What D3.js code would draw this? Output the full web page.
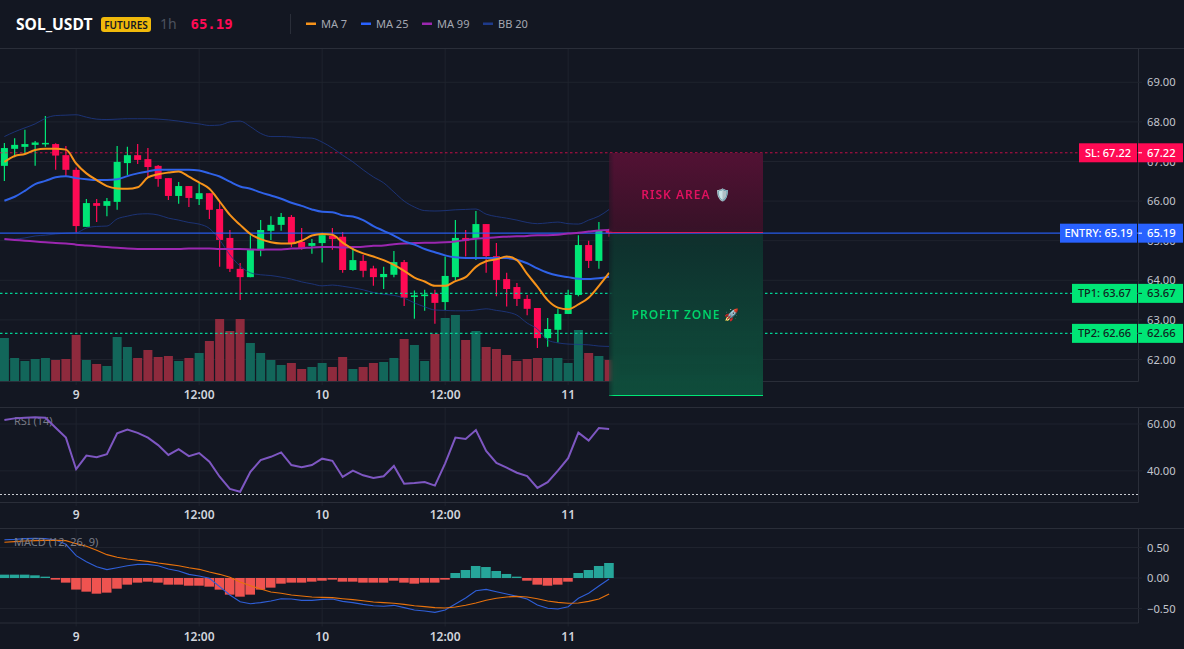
<!DOCTYPE html>
<html>
<head>
<meta charset="utf-8">
<title>SOL_USDT</title>
<script src="https://cdn.jsdelivr.net/npm/d3@7"></script>
<style>
  html, body { margin: 0; padding: 0; background: #131722; overflow: hidden; }
  #stage { position: relative; width: 1184px; height: 649px; font-family: "Noto Sans", "Open Sans", sans-serif; }
  svg { position: absolute; left: 0; top: 0; }
  .zone { position: absolute; box-sizing: border-box; backdrop-filter: blur(3px); display: flex; align-items: center; justify-content: center; font-size: 12px; letter-spacing: 1px; font-weight: 600; white-space: pre;
    -webkit-mask-image: linear-gradient(90deg, rgba(0,0,0,.55), #000 5px); mask-image: linear-gradient(90deg, rgba(0,0,0,.55), #000 5px); }
</style>
</head>
<body>
<div id="stage"></div>
<script>
// Hourly candles, index 0..59
const opens  = [66.89,67.32,67.37,67.42,67.44,67.44,67.16,66.79,65.35,65.95,65.88,65.98,66.96,67.16,67.06,66.89,66.58,66.13,66.38,66.05,66.2,65.8,65.07,64.29,64.08,64.77,65.25,65.4,65.6,64.97,64.87,64.94,65.12,65.1,64.26,64.49,64.3,64.08,64.14,64.46,63.58,63.6,63.66,63.45,64.08,65.07,65.07,65.42,64.61,64.03,63.83,63.53,63.3,62.54,62.75,63.15,63.63,64.89,64.49,65.25];
const highs  = [67.47,67.59,67.80,67.52,68.15,67.46,67.39,66.85,66.05,66.05,66.08,67.39,67.37,67.44,67.34,66.91,66.58,66.48,66.38,66.46,66.2,65.98,65.27,64.44,65.14,65.52,65.62,65.7,65.65,65.32,65.04,65.2,65.32,65.22,64.82,64.64,64.37,64.34,64.74,64.51,63.74,63.76,63.76,64.6,65.52,65.27,65.75,65.42,64.94,64.19,63.93,63.63,63.3,63.05,63.28,63.76,65.14,65.0,65.47,65.3];
const lows   = [66.51,67.11,67.21,66.89,67.37,66.79,66.63,65.20,65.35,65.47,65.62,65.78,66.66,66.94,66.61,66.36,66.03,65.93,65.85,65.90,65.55,64.34,64.21,63.5,64.08,64.61,65.02,65.25,64.84,64.77,64.67,64.45,64.77,64.19,64.24,64.08,63.86,63.78,64.08,63.35,63.03,63.23,62.9,63.25,64.01,64.6,64.51,64.19,63.6,63.34,63.35,63.12,62.29,62.32,62.43,63.15,63.6,64.31,64.29,65.1];
const closes = [67.34,67.42,67.44,67.48,67.47,67.15,66.79,65.37,65.95,65.88,66.0,66.99,67.16,67.04,66.86,66.56,66.13,66.38,66.08,66.2,65.78,65.02,64.29,64.08,64.77,65.27,65.4,65.6,64.94,64.82,64.94,65.14,65.04,64.26,64.51,64.24,64.08,64.16,64.46,63.56,63.62,63.64,63.43,64.11,65.07,65.0,65.42,64.61,64.01,63.78,63.53,63.28,62.54,62.77,63.15,63.63,64.89,64.49,65.25,65.19];
const volumes = [43,23,20,22,23,21,22,46,21,17,15,44,34,23,31,24,25,20,23,28,40,62,50,62,38,28,21,16,18,12,14,18,14,24,12,14,18,19,23,42,36,20,47,63,66,41,50,34,32,26,20,22,23,23,23,18,51,28,25,21];

// Moving averages and Bollinger bands
const ma7  = [66.99,67.14,67.19,67.29,67.32,67.32,67.30,66.95,66.70,66.53,66.38,66.32,66.31,66.35,66.60,66.68,66.72,66.75,66.62,66.47,66.31,65.99,65.65,65.40,65.17,65.04,64.96,64.93,64.93,65.00,65.13,65.17,65.15,64.95,64.79,64.68,64.60,64.51,64.39,64.24,64.07,63.97,63.86,63.86,63.98,64.08,64.34,64.48,64.53,64.60,64.51,64.16,63.84,63.50,63.31,63.27,63.39,63.56,63.86,64.19];
const ma25 = [66.01,66.11,66.26,66.43,66.51,66.60,66.63,66.58,66.55,66.53,66.53,66.55,66.63,66.70,66.75,66.79,66.79,66.79,66.79,66.77,66.70,66.62,66.49,66.37,66.31,66.22,66.14,66.06,65.96,65.88,65.79,65.73,65.72,65.64,65.61,65.52,65.37,65.25,65.13,64.99,64.90,64.79,64.71,64.63,64.58,64.56,64.56,64.56,64.56,64.56,64.52,64.43,64.30,64.19,64.12,64.08,64.04,64.03,64.05,64.09];
const ma99 = [65.04,65.02,65.00,64.98,64.96,64.94,64.93,64.90,64.88,64.86,64.84,64.82,64.80,64.79,64.79,64.79,64.79,64.79,64.80,64.80,64.80,64.79,64.79,64.79,64.78,64.77,64.78,64.78,64.80,64.81,64.83,64.84,64.84,64.83,64.84,64.85,64.87,64.88,64.91,64.93,64.94,64.95,64.95,64.96,64.98,65.02,65.05,65.07,65.09,65.10,65.11,65.12,65.14,65.14,65.15,65.18,65.20,65.23,65.26,65.27];
const bbUpper = [67.63,67.75,67.85,67.95,68.09,68.16,68.17,68.18,68.12,68.07,68.06,68.07,68.08,68.08,68.08,68.07,68.05,68.02,67.98,67.95,67.91,67.92,68.00,68.02,67.88,67.71,67.63,67.63,67.62,67.60,67.59,67.49,67.34,67.16,66.99,66.79,66.61,66.46,66.23,66.00,65.85,65.76,65.75,65.76,65.78,65.79,65.80,65.67,65.61,65.57,65.52,65.46,65.43,65.45,65.47,65.43,65.42,65.52,65.62,65.79];
const bbLower = [65.02,65.04,65.07,65.12,65.14,65.17,65.19,65.20,65.32,65.36,65.37,65.55,65.62,65.67,65.68,65.65,65.57,65.52,65.46,65.42,65.31,65.02,64.64,64.36,64.19,64.14,64.12,64.08,64.03,63.96,63.91,63.86,63.88,63.85,63.81,63.76,63.69,63.65,63.62,63.55,63.43,63.33,63.25,63.24,63.23,63.23,63.25,63.28,63.24,63.20,63.12,62.92,62.77,62.49,62.42,62.39,62.38,62.37,62.34,62.33];

// Oscillators
const rsi = [61.7,62.4,62.7,62.9,62.7,58.4,54.2,40.7,46.5,45.8,47.1,56.0,57.6,56.2,54.2,51.0,46.8,49.3,46.3,47.6,43.9,37.5,32.3,31.1,39.6,44.6,46.0,47.9,42.5,41.6,42.5,45.2,44.3,37.4,40.1,38.1,37.0,37.7,42.1,34.5,34.8,35.2,33.7,43.2,54.2,53.6,57.4,48.5,43.4,41.4,39.2,37.8,32.7,35.2,40.1,45.4,56.3,52.9,58.3,57.9];
const macdLine = [.628,.634,.645,.65,.645,.623,.552,.366,.268,.186,.137,.169,.202,.224,.224,.202,.148,.115,.06,.033,-.005,-.142,-.279,-.388,-.421,-.404,-.377,-.339,-.344,-.366,-.366,-.35,-.344,-.383,-.404,-.432,-.454,-.464,-.448,-.486,-.525,-.541,-.563,-.525,-.426,-.328,-.208,-.186,-.224,-.262,-.301,-.344,-.443,-.497,-.508,-.47,-.333,-.251,-.131,-.016];
const macdSignal = [.585,.596,.607,.612,.617,.617,.612,.563,.519,.454,.383,.339,.311,.29,.273,.246,.224,.202,.169,.142,.098,.06,.011,-.066,-.126,-.18,-.23,-.251,-.279,-.295,-.311,-.317,-.322,-.339,-.355,-.372,-.393,-.404,-.415,-.432,-.454,-.47,-.486,-.492,-.475,-.448,-.41,-.366,-.333,-.311,-.301,-.311,-.339,-.377,-.399,-.415,-.41,-.383,-.344,-.262];
const macdHist = [.055,.055,.055,.044,.022,-.027,-.076,-.19,-.224,-.257,-.24,-.175,-.109,-.076,-.06,-.076,-.109,-.109,-.126,-.126,-.142,-.191,-.273,-.306,-.273,-.191,-.158,-.093,-.076,-.076,-.06,-.044,-.027,-.06,-.06,-.076,-.076,-.076,-.044,-.076,-.093,-.076,-.076,-.027,.082,.131,.197,.18,.115,.066,.022,-.044,-.109,-.126,-.109,-.06,.082,.131,.197,.246];

// Axes
const timeTickIndex = [7, 19, 31, 43, 55];
const timeTickLabels = ["9", "12:00", "10", "12:00", "11"];
const priceTicks = [62, 63, 64, 65, 66, 67, 68, 69];
const rsiTicks = [40, 60];
const macdTicks = [-0.5, 0, 0.5];

// Trade levels
const levelNames = ["SL", "ENTRY", "TP1", "TP2"];
const levelPrices = [67.22, 65.19, 63.67, 62.66];
const levelColors = ["#ff0a54", "#2962ff", "#00e676", "#00e676"];
const levelTextColors = ["#ffffff", "#ffffff", "#10241f", "#10241f"];
const profitZoneFloor = 61.1;

// Legend
const legendNames = ["MA 7", "MA 25", "MA 99", "BB 20"];
const legendColors = ["#f7931a", "#2962ff", "#9c27b0", "#1e3a8a"];

const GRID = "#1f232e", FRAME = "#2a2e39", TEXT = "#c3c6ce";
const UP = "#00e676", DOWN = "#ff0a54";
const axisRight = 1138;
const AXIS_FONT = 11.2;

const n = closes.length;
const x = d3.scaleLinear().domain([0, 59]).range([4.4, 609.15]);
const yPrice = d3.scaleLinear().domain([62, 69]).range([359.5, 82.3]);
const yVol = d3.scaleLinear().domain([0, 100]).range([381, 281]);
const yRsi = d3.scaleLinear().domain([30, 60]).range([494.3, 424]);
const yMacd = d3.scaleLinear().domain([-0.5, 0.5]).range([608.5, 547.5]);
const crisp = v => Math.round(v - .5) + .5;
const panes = [
  { top: 49, bottom: 381, labelY: 395 },
  { top: 407, bottom: 502, labelY: 515 },
  { top: 528, bottom: 622.5, labelY: 637 }
];

const stage = d3.select("#stage");
const svg = stage.append("svg").attr("width", 1184).attr("height", 649);
const defs = svg.append("defs");
defs.append("clipPath").attr("id", "plot").append("rect").attr("x", 0).attr("y", 0).attr("width", axisRight).attr("height", 649);

// Panel grid, frame and time labels
panes.forEach(p => {
  const g = svg.append("g");
  g.selectAll("line.v").data(timeTickIndex).join("line")
    .attr("x1", d => x(d)).attr("x2", d => x(d)).attr("y1", p.top).attr("y2", p.bottom + 4)
    .attr("stroke", GRID);
  g.selectAll("text").data(timeTickLabels).join("text")
    .attr("x", (d, i) => x(timeTickIndex[i])).attr("y", p.labelY + 4)
    .attr("text-anchor", "middle").attr("font-size", 12).attr("font-weight", 600).attr("fill", "#d1d4dc")
    .text(d => d);
  g.append("line").attr("x1", 0).attr("x2", axisRight + .5).attr("y1", p.bottom + .5).attr("y2", p.bottom + .5).attr("stroke", FRAME);
  g.append("line").attr("x1", axisRight + .5).attr("x2", axisRight + .5).attr("y1", p.top).attr("y2", p.bottom + .5).attr("stroke", FRAME);
});
[48, 407, 528].forEach(y => svg.append("line").attr("x1", 0).attr("x2", 1184).attr("y1", y + .5).attr("y2", y + .5).attr("stroke", FRAME));

function yGridAndLabels(ticks, scale, fmt) {
  const g = svg.append("g");
  g.selectAll("line").data(ticks).join("line")
    .attr("x1", 0).attr("x2", axisRight + 4).attr("y1", d => scale(d)).attr("y2", d => scale(d)).attr("stroke", GRID);
  g.selectAll("text").data(ticks).join("text")
    .attr("x", 1147).attr("y", d => scale(d) + 4).attr("font-size", AXIS_FONT).attr("fill", TEXT)
    .text(fmt);
}
const fmt2 = d3.format(".2f");
yGridAndLabels(priceTicks, yPrice, fmt2);
yGridAndLabels(rsiTicks, yRsi, fmt2);
yGridAndLabels(macdTicks, yMacd, d => fmt2(d).replace("-", "\u2212"));

const plot = svg.append("g").attr("clip-path", "url(#plot)");

// Volume bars share the price panel
plot.append("g").selectAll("rect").data(volumes).join("rect")
  .attr("x", (d, i) => x(i) - 4.5).attr("width", 9)
  .attr("y", d => yVol(d)).attr("height", d => yVol(0) - yVol(d))
  .attr("fill", (d, i) => closes[i] >= opens[i] ? "#12665a" : "#8e2a3d");

// Candles
const candles = plot.append("g").selectAll("g").data(d3.range(n)).join("g");
candles.append("line")
  .attr("x1", i => x(i)).attr("x2", i => x(i))
  .attr("y1", i => yPrice(highs[i])).attr("y2", i => yPrice(lows[i]))
  .attr("stroke", i => closes[i] >= opens[i] ? UP : DOWN).attr("stroke-width", 1.2);
candles.append("rect")
  .attr("x", i => x(i) - 3.5).attr("width", 7)
  .attr("y", i => yPrice(Math.max(opens[i], closes[i])))
  .attr("height", i => Math.max(1.5, Math.abs(yPrice(opens[i]) - yPrice(closes[i]))))
  .attr("fill", i => closes[i] >= opens[i] ? UP : DOWN);

// Bollinger bands
const priceLine = d3.line().x((d, i) => x(i)).y(d => yPrice(d)).curve(d3.curveMonotoneX);
[bbUpper, bbLower].forEach(s => plot.append("path").attr("d", priceLine(s)).attr("fill", "none")
  .attr("stroke", "#1e3a8a").attr("stroke-opacity", .8).attr("stroke-width", 1));

// Trade level lines
levelPrices.forEach((p, i) => {
  plot.append("line").attr("x1", 0).attr("x2", axisRight).attr("y1", yPrice(p)).attr("y2", yPrice(p))
    .attr("stroke", i >= 2 ? "#00e6a0" : levelColors[i])
    .attr("stroke-width", i === 0 ? 1 : 1.2)
    .attr("stroke-opacity", i === 0 ? .75 : .9)
    .attr("stroke-dasharray", i === 1 ? null : "2.5,2.5");
});

// Moving averages
[[ma99, legendColors[2]], [ma25, "#2f62e8"], [ma7, legendColors[0]]].forEach(([s, c]) =>
  plot.append("path").attr("d", priceLine(s)).attr("fill", "none").attr("stroke", c).attr("stroke-width", 2));

// RSI panel
svg.append("line").attr("x1", 0).attr("x2", axisRight).attr("y1", crisp(yRsi(30))).attr("y2", crisp(yRsi(30)))
  .attr("stroke", "#c8cbd2").attr("stroke-dasharray", "2,2");
svg.append("text").attr("x", 14).attr("y", 425).attr("font-size", 11).attr("fill", "#787b86").text("RSI (14)");
svg.append("path").attr("d", d3.line().x((d, i) => x(i)).y(d => yRsi(d))(rsi))
  .attr("fill", "none").attr("stroke", "#7e57c2").attr("stroke-width", 2);

// MACD panel
svg.append("g").selectAll("rect").data(macdHist).join("rect")
  .attr("x", (d, i) => x(i) - 5).attr("width", 9.6)
  .attr("y", d => Math.min(yMacd(d), yMacd(0)))
  .attr("height", d => Math.abs(yMacd(d) - yMacd(0)))
  .attr("fill", d => d >= 0 ? "#26a69a" : "#ef5350");
const macdPath = d3.line().x((d, i) => x(i)).y(d => yMacd(d));
svg.append("path").attr("d", macdPath(macdLine)).attr("fill", "none").attr("stroke", "#2f5fd8").attr("stroke-width", 1.1);
svg.append("path").attr("d", macdPath(macdSignal)).attr("fill", "none").attr("stroke", "#e8720c").attr("stroke-width", 1.1);
svg.append("text").attr("x", 14).attr("y", 546).attr("font-size", 11).attr("fill", "#787b86").text("MACD (12, 26, 9)");

// Level tags on the price axis
levelPrices.forEach((p, i) => {
  const y = yPrice(p), label = `${levelNames[i]}: ${fmt2(p)}`;
  const tag = svg.append("g");
  const w = { SL: 58, ENTRY: 77, TP1: 65, TP2: 65 }[levelNames[i]];
  tag.append("rect").attr("x", axisRight - w - 1).attr("y", y - 9.5).attr("width", w).attr("height", 19).attr("fill", levelColors[i]);
  tag.append("rect").attr("x", axisRight).attr("y", y - 9.5).attr("width", 45).attr("height", 19).attr("fill", levelColors[i]);
  tag.append("text").attr("x", axisRight - 1 - w / 2).attr("y", y + 4).attr("text-anchor", "middle")
    .attr("font-size", 11).attr("font-weight", 500).attr("fill", levelTextColors[i]).text(label);
  tag.append("line").attr("x1", axisRight + .5).attr("x2", axisRight + 4).attr("y1", y).attr("y2", y).attr("stroke", levelTextColors[i]);
  tag.append("text").attr("x", 1147).attr("y", y + 4).attr("font-size", AXIS_FONT).attr("font-weight", 500)
    .attr("fill", levelTextColors[i]).text(fmt2(p));
});

// Risk and profit zones, laid over the newest candle
const zoneLeft = x(59), zoneRight = x(74);
stage.append("div").attr("class", "zone")
  .style("left", zoneLeft + "px").style("width", (zoneRight - zoneLeft) + "px")
  .style("top", yPrice(levelPrices[0]) + "px").style("height", (yPrice(levelPrices[1]) - yPrice(levelPrices[0])) + "px")
  .style("padding-top", "4px")
  .style("background", "linear-gradient(180deg, rgba(88,18,54,.92), rgba(58,18,40,.92))")
  .style("border-bottom", "1.5px solid #d11a5e")
  .style("color", "#e0115f").text("RISK AREA 🛡️");
stage.append("div").attr("class", "zone")
  .style("left", zoneLeft + "px").style("width", (zoneRight - zoneLeft) + "px")
  .style("top", yPrice(levelPrices[1]) + 1 + "px").style("height", (yPrice(profitZoneFloor) - yPrice(levelPrices[1])) + "px")
  .style("background", "linear-gradient(180deg, rgba(15,50,46,.9), rgba(15,82,62,.92))")
  .style("border-bottom", "1.5px solid #00e676")
  .style("color", "#00d26a").text("PROFIT ZONE 🚀");

// Header bar
const header = svg.append("g");
header.append("text").attr("x", 16).attr("y", 30).attr("font-size", 15.6).attr("font-weight", 700).attr("fill", "#ffffff").text("SOL_USDT");
header.append("rect").attr("x", 101).attr("y", 17).attr("width", 50).attr("height", 15).attr("rx", 3).attr("fill", "#f0b90b");
header.append("text").attr("x", 126).attr("y", 28.5).attr("text-anchor", "middle").attr("font-size", 10).attr("font-weight", 600).attr("fill", "#131722").text("FUTURES");
header.append("text").attr("x", 160).attr("y", 29).attr("font-size", 14).attr("fill", "#4c525e").text("1h");
header.append("text").attr("x", 190.5).attr("y", 29).attr("font-size", 14).attr("font-weight", 700).attr("font-family", "DejaVu Sans Mono, monospace").attr("fill", "#ff0a54").text(fmt2(closes[n - 1]));
header.append("line").attr("x1", 290.5).attr("x2", 290.5).attr("y1", 14).attr("y2", 34).attr("stroke", FRAME);
const legendX = [306, 361, 422, 483];
legendNames.forEach((name, i) => {
  header.append("rect").attr("x", legendX[i]).attr("y", 22.5).attr("width", 10).attr("height", 2.5).attr("fill", legendColors[i]);
  header.append("text").attr("x", legendX[i] + 15).attr("y", 28).attr("font-size", 11).attr("fill", "#a5a8b2").text(name);
});
</script>
</body>
</html>
